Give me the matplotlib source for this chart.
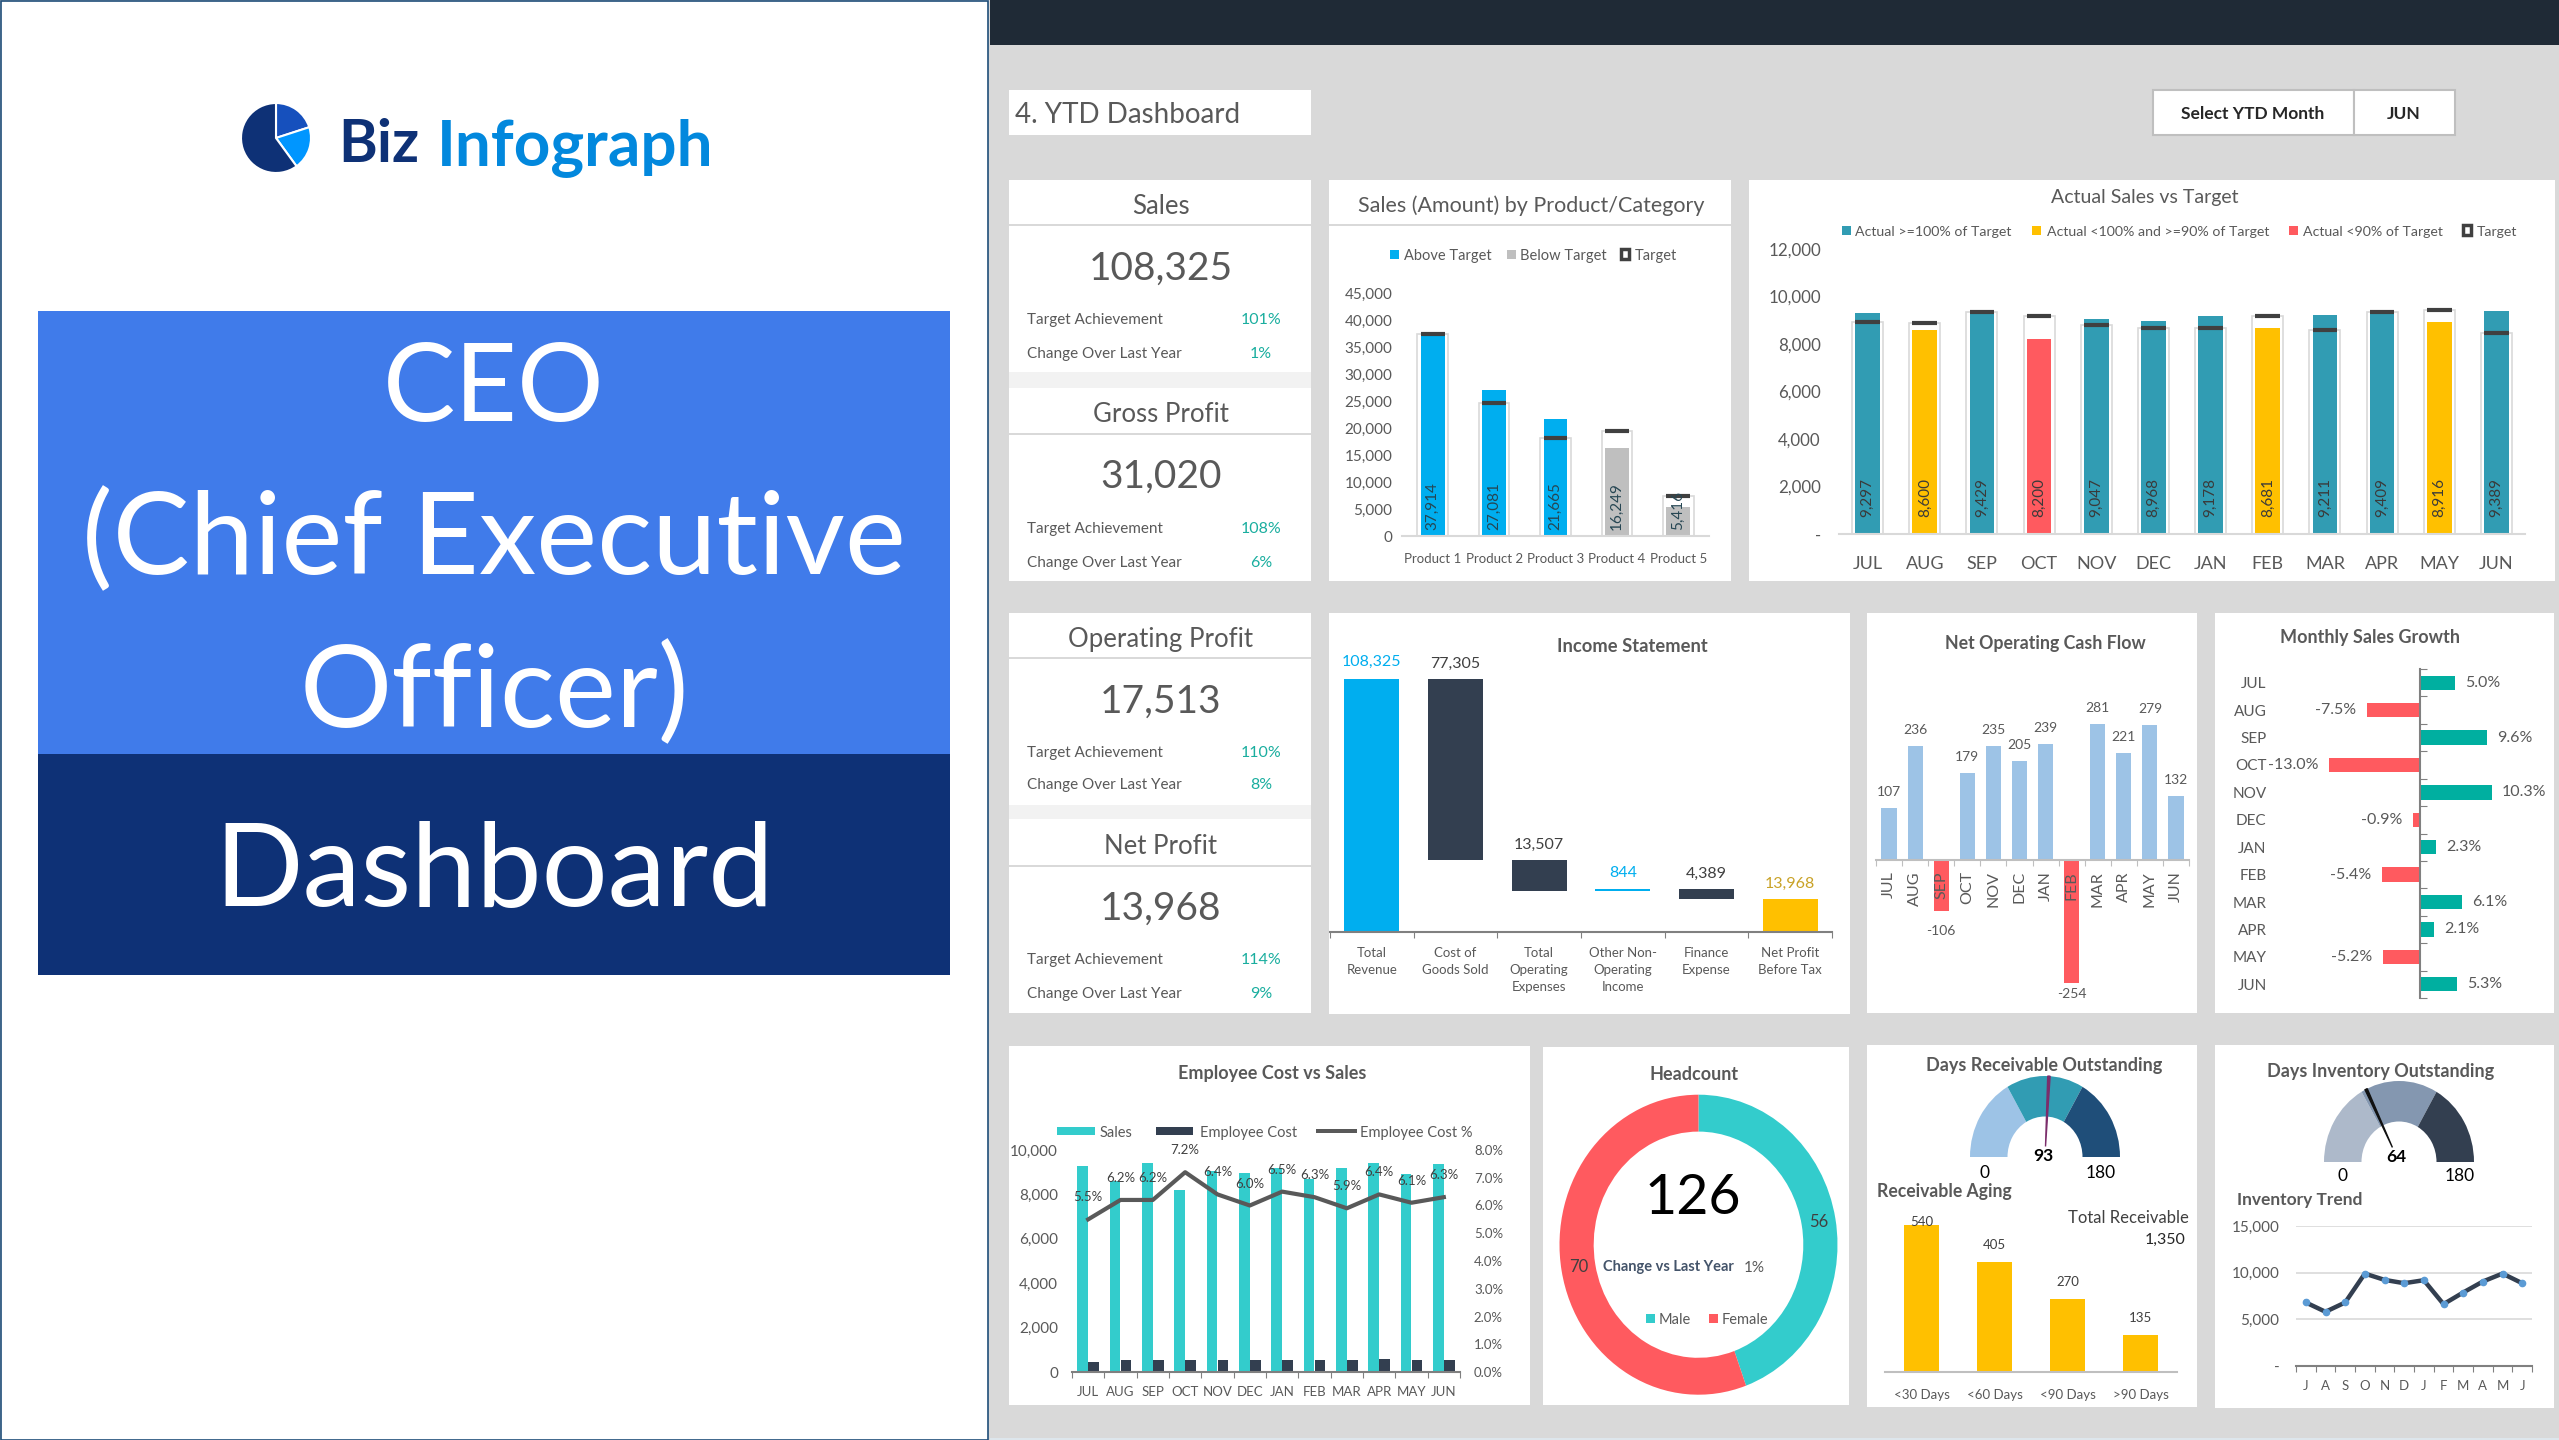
import numpy as np
import matplotlib
matplotlib.use('Agg')
import matplotlib.pyplot as plt
from matplotlib.patches import Rectangle

plt.rcParams['font.family'] = ['Lato', 'DejaVu Sans']

W, H = 2559, 1440
GREY = '#595959'
AXIS = '#BFBFBF'
TEAL = '#319CB3'
CYAN = '#00AEEF'
GOLD = '#FFC000'
RED = '#FF5A5F'
SLATE = '#333F50'
TURQ = '#33CCCC'

months = ['JUL', 'AUG', 'SEP', 'OCT', 'NOV', 'DEC', 'JAN', 'FEB', 'MAR', 'APR', 'MAY', 'JUN']
month_initials = ['J', 'A', 'S', 'O', 'N', 'D', 'J', 'F', 'M', 'A', 'M', 'J']

products = ['Product 1', 'Product 2', 'Product 3', 'Product 4', 'Product 5']
product_sales = [37914, 27081, 21665, 16249, 5416]
product_target = [37500, 24750, 18200, 19480, 7500]

monthly_sales = [9297, 8600, 9429, 8200, 9047, 8968, 9178, 8681, 9211, 9409, 8916, 9389]
monthly_target = [8940, 8884, 9347, 9158, 8808, 8690, 8690, 9158, 8607, 9347, 9419, 8463]

income_labels = ['Total\nRevenue', 'Cost of\nGoods Sold', 'Total\nOperating\nExpenses',
                 'Other Non-\nOperating\nIncome', 'Finance\nExpense', 'Net Profit\nBefore Tax']
income_values = [108325, -77305, -13507, 844, -4389, 13968]

cash_flow = [107, 236, -106, 179, 235, 205, 239, -254, 281, 221, 279, 132]
sales_growth = [5.0, -7.5, 9.6, -13.0, 10.3, -0.9, 2.3, -5.4, 6.1, 2.1, -5.2, 5.3]

employee_cost = [450, 530, 530, 530, 530, 530, 530, 530, 530, 600, 530, 530]
employee_pct = [5.5, 6.2, 6.2, 7.2, 6.4, 6.0, 6.5, 6.3, 5.9, 6.4, 6.1, 6.3]

headcount = [56, 70]
headcount_colors = [TURQ, RED]

aging_labels = ['<30 Days', '<60 Days', '<90 Days', '>90 Days']
aging_values = [540, 405, 270, 135]

inventory = [6805, 5808, 6805, 9900, 9228, 8870, 9192, 6627, 7874, 9050, 9905, 8870]

kpi_blocks = [
    ('Sales', '108,325', '101%', '1%', 205, 267, 318, 352),
    ('Gross Profit', '31,020', '108%', '6%', 413, 475, 527, 561),
    ('Operating Profit', '17,513', '110%', '8%', 638, 700, 751, 783),
    ('Net Profit', '13,968', '114%', '9%', 845, 907, 958, 992),
]

fig = plt.figure(figsize=(W / 100, H / 100), dpi=100, facecolor='#D9D9D9')

bg = fig.add_axes([0, 0, 1, 1])
bg.set_xlim(0, W)
bg.set_ylim(H, 0)
bg.axis('off')


def box(x0, y0, x1, y1, color='white', edge='none', lw=0, z=1):
    bg.add_patch(Rectangle((x0, y0), x1 - x0, y1 - y0, facecolor=color, edgecolor=edge, linewidth=lw, zorder=z))


def txt(x, y, s, size, color=GREY, ha='center', weight='normal'):
    # +2: Lato sits a bit high with va=center
    return bg.text(x, y + 2, s, fontsize=size, color=color, ha=ha, va='center', weight=weight, zorder=5)


def chart_axes(x0, y0, x1, y1):
    # pixel box, y counted from the top
    ax = fig.add_axes([x0 / W, 1 - y1 / H, (x1 - x0) / W, (y1 - y0) / H])
    ax.patch.set_visible(False)
    for s in ax.spines.values():
        s.set_visible(False)
    return ax


def category_axis(ax, labels, size, color=GREY, pad=6, ticks=True, rotation=0):
    n = len(labels)
    ax.set_xlim(-0.5, n - 0.5)
    ax.spines['bottom'].set_visible(True)
    ax.spines['bottom'].set_color(AXIS if not ticks else '#808080')
    ax.spines['bottom'].set_linewidth(1.5)
    if ticks:
        ax.set_xticks(np.arange(n + 1) - 0.5, labels=[])
        ax.tick_params(axis='x', which='major', length=4, color='#808080')
    else:
        ax.set_xticks([])
    ax.set_xticks(np.arange(n), labels=labels, minor=True)
    ax.tick_params(axis='x', which='minor', length=0, labelsize=size, labelcolor=color, pad=pad,
                   labelrotation=rotation)


def value_label(ax, x, y, s, dy, size, color=GREY):
    ax.annotate(s, (x, y), xytext=(0, dy * 0.72), textcoords='offset points', ha='center', va='center',
                fontsize=size, color=color, annotation_clip=False, zorder=6)


def legend_square(x, y, color, size=9):
    box(x, y - size / 2, x + size, y + size / 2, color=color, z=4)


def legend_target(x, y):
    box(x + 2, y - 5, x + 10, y + 5, color='white', edge='#404040', lw=2.5, z=4)


def gauge(cx, cy, rx, ry, colors, value, top, needle_color, needle_base):
    ax = chart_axes(cx - rx, cy - ry, cx + rx, cy)
    ax.pie([top / 3, top / 3, top / 3, top], colors=colors + ['none'], startangle=180, counterclock=False,
           radius=1, wedgeprops={'width': 0.5, 'linewidth': 0})
    ax.set_aspect('auto')
    ax.set_xlim(-1, 1)
    ax.set_ylim(0, 1)
    ang = np.pi * (1 - value / top)
    ax.fill([needle_base * np.cos(ang), np.cos(ang - 0.016), np.cos(ang + 0.016)],
            [needle_base * np.sin(ang), np.sin(ang - 0.016), np.sin(ang + 0.016)],
            color=needle_color, zorder=5, clip_on=False)


# left title panel
box(0.5, 0.5, 988, 1439.5, edge='#1F4E79', lw=1.2)
box(38, 311, 950, 754, color='#407BEA', z=2)
box(38, 754, 950, 975, color='#0E3176', z=2)
txt(494, 389, 'CEO', 78, color='white')
txt(494, 539, '(Chief Executive', 83, color='white')
txt(494, 692, 'Officer)', 83, color='white')
txt(494, 872, 'Dashboard', 84, color='white')

logo = chart_axes(241, 103, 311, 173)
logo.pie([20, 20, 60], colors=['#1650BD', '#0096FF', '#0E3176'], startangle=90, counterclock=False, radius=1,
         wedgeprops={'edgecolor': 'white', 'linewidth': 1.5})
logo.set_xlim(-1, 1)
logo.set_ylim(-1, 1)
txt(338, 143, 'Biz', 42.5, color='#0E3176', ha='left', weight='bold')
txt(437, 146, 'Infograph', 46, color='#0288DD', ha='left', weight='bold')

# right dashboard background
box(990, 0, W, 45, color='#1F2A36')
box(990, 1438, W, 1440, color='#DDE6EC')

box(1009, 90, 1311, 135)
txt(1015, 113, '4. YTD Dashboard', 20, ha='left')

box(2153, 90, 2354, 135, edge=AXIS, lw=1.5)
box(2354, 90, 2455, 135, edge=AXIS, lw=1.5)
txt(2253, 112, 'Select YTD Month', 12.5, color='#262626', weight='bold')
txt(2404, 112, 'JUN', 12.5, color='#262626', weight='bold')

# KPI cards
box(1009, 180, 1311, 372)
box(1009, 372, 1311, 388, color='#F2F2F2')
box(1009, 388, 1311, 581)
box(1009, 613, 1311, 805)
box(1009, 805, 1311, 819, color='#F2F2F2')
box(1009, 819, 1311, 1013)
for line_y in (225, 434, 658, 866):
    box(1009, line_y - 1, 1311, line_y + 1, color='#D9D9D9', z=2)
for title, value, target, change, ty, vy, ay, cy in kpi_blocks:
    txt(1161, ty, title, 18.5)
    txt(1161, vy, value, 28)
    txt(1027, ay, 'Target Achievement', 11, ha='left')
    txt(1261, ay, target, 11.5, color='#1AAE9F')
    txt(1027, cy, 'Change Over Last Year', 11, ha='left')
    txt(1261, cy, change, 11.5, color='#1AAE9F')

# sales by product
box(1329, 180, 1731, 581)
box(1329, 224, 1731, 226, color='#D9D9D9', z=2)
txt(1531, 204, 'Sales (Amount) by Product/Category', 15.5)
legend_square(1390, 254, '#00AEEF')
txt(1404, 254, 'Above Target', 10.5, ha='left')
legend_square(1507, 254, '#BFBFBF')
txt(1520, 254, 'Below Target', 10.5, ha='left')
legend_target(1619, 254)
txt(1635, 254, 'Target', 10.5, ha='left')

ax = chart_axes(1402, 293.5, 1709, 536)
category_axis(ax, products, 9.5, ticks=False, pad=12)
ax.spines['bottom'].set_color('#D9D9D9')
ax.set_ylim(0, 45000)
ax.set_yticks(np.arange(0, 45001, 5000), labels=[f'{v:,}' for v in range(0, 45001, 5000)])
ax.tick_params(axis='y', length=0, labelsize=11, labelcolor=GREY, pad=7)
xs = np.arange(len(products))
ax.bar(xs, product_target, width=0.5, color='white', edgecolor='#D9D9D9', linewidth=1.2)
ax.bar(xs, product_sales, width=0.39, color=[CYAN if a >= t else '#BFBFBF' for a, t in zip(product_sales, product_target)])
ax.hlines(product_target, xs - 0.195, xs + 0.195, color='#404040', linewidth=3)
for x, v in zip(xs, product_sales):
    ax.text(x, 1100, f'{v:,}', rotation=90, ha='center', va='bottom', fontsize=11, color='#264653')

# actual sales vs target
box(1749, 180, 2555, 581)
txt(2145, 196, 'Actual Sales vs Target', 14)
legend_square(1842, 230, TEAL)
txt(1855, 230, 'Actual >=100% of Target', 10.2, ha='left')
legend_square(2032, 230, GOLD)
txt(2047, 230, 'Actual <100% and >=90% of Target', 10.2, ha='left')
legend_square(2289, 230, RED)
txt(2303, 230, 'Actual <90% of Target', 10.2, ha='left')
legend_target(2461, 230)
txt(2477, 230, 'Target', 10.2, ha='left')

ax = chart_axes(1839, 249, 2525, 534)
category_axis(ax, months, 13, ticks=False, pad=16)
ax.spines['bottom'].set_color('#D9D9D9')
ax.set_ylim(0, 12000)
ticks = np.arange(0, 12001, 2000)
ax.set_yticks(ticks, labels=['-' if v == 0 else f'{v:,}' for v in ticks])
ax.tick_params(axis='y', length=0, labelsize=12.2, labelcolor=GREY, pad=13)
xs = np.arange(12)
colors = []
for a, t in zip(monthly_sales, monthly_target):
    colors.append(TEAL if a >= t else (GOLD if a >= 0.9 * t else RED))
ax.bar(xs, monthly_target, width=0.54, color='white', edgecolor='#D9D9D9', linewidth=1.2)
ax.bar(xs, monthly_sales, width=0.43, color=colors)
ax.hlines(monthly_target, xs - 0.215, xs + 0.215, color='#404040', linewidth=3)
for x, v in zip(xs, monthly_sales):
    ax.text(x, 700, f'{v:,}', rotation=90, ha='center', va='bottom', fontsize=11, color='#3A3A3A')

# income statement
box(1329, 613, 1850, 1014)
txt(1632, 644, 'Income Statement', 13.2, weight='bold')
ax = chart_axes(1330, 679, 1832, 932)
category_axis(ax, income_labels, 9.5, pad=11)
for t in ax.get_xticklabels(minor=True):
    t.set_linespacing(1.5)
ax.set_ylim(0, income_values[0])
ax.set_yticks([])
running = 0
label_colors = ['#00AEEF', '#404040', '#404040', '#00AEEF', '#404040', '#C9A227']
bar_colors = [CYAN, SLATE, SLATE, CYAN, SLATE, GOLD]
gaps = [17, 15, 15, 16, 15, 15]
for i, v in enumerate(income_values):
    if i == len(income_values) - 1:
        bottom, top = 0, v
    else:
        bottom, top = min(running, running + v), max(running, running + v)
        running += v
    ax.bar(i, top - bottom, bottom=bottom, width=0.66, color=bar_colors[i])
    value_label(ax, i, top, f'{abs(v):,}', gaps[i], 11.5, label_colors[i])

# net operating cash flow
box(1867, 613, 2197, 1013)
txt(2045, 642, 'Net Operating Cash Flow', 12.8, weight='bold')
ax = chart_axes(1876, 724, 2189, 983)
ax.set_ylim(-254, 281)
category_axis(ax, months, 11.5, pad=8, rotation=90)
ax.spines['bottom'].set_position(('data', 0))
ax.spines['bottom'].set_color(AXIS)
ax.tick_params(axis='x', which='major', color=AXIS)
ax.set_yticks([])
ax.bar(range(12), cash_flow, width=0.58, color=['#9DC3E6' if v > 0 else RED for v in cash_flow])
for i, v in enumerate(cash_flow):
    value_label(ax, i, v, str(v), 16 if v > 0 else (-20 if v > -200 else -11), 10)

# monthly sales growth
box(2215, 613, 2554, 1013)
txt(2370, 635, 'Monthly Sales Growth', 13, weight='bold')
ax = chart_axes(2280, 669, 2530, 998)
ax.set_xlim(-139.5 / 7, 110.5 / 7)
ax.set_ylim(11.5, -0.5)
ax.spines['left'].set_visible(True)
ax.spines['left'].set_position(('data', 0))
ax.spines['left'].set_color('#808080')
ax.spines['left'].set_linewidth(1.5)
ax.set_xticks([])
ax.set_yticks(np.arange(13) - 0.5, labels=[])
ax.tick_params(axis='y', which='major', direction='in', length=5, color='#808080')
ax.set_yticks(np.arange(12), labels=months, minor=True)
ax.tick_params(axis='y', which='minor', length=0, labelsize=11, labelcolor=GREY, pad=110)
ax.barh(range(12), sales_growth, height=0.52, color=['#00AFA0' if v > 0 else RED for v in sales_growth])
for i, v in enumerate(sales_growth):
    ax.annotate(f'{v:.1f}%', (v, i), xytext=(7.5 if v > 0 else -7.5, 0), textcoords='offset points', va='center',
                ha='left' if v > 0 else 'right', fontsize=11.5, color=GREY, annotation_clip=False)

# employee cost vs sales
box(1009, 1046, 1530, 1405)
txt(1272, 1072, 'Employee Cost vs Sales', 13, weight='bold')
box(1057, 1127, 1095, 1135, color=TURQ, z=4)
txt(1100, 1131, 'Sales', 10.5, ha='left')
box(1156, 1127, 1193, 1135, color=SLATE, z=4)
txt(1200, 1131, 'Employee Cost', 10.5, ha='left')
box(1316, 1129, 1357, 1133, color='#595959', z=4)
txt(1360, 1131, 'Employee Cost %', 10.5, ha='left')
ax = chart_axes(1072, 1150, 1460, 1372)
category_axis(ax, months, 9.5, pad=10)
ax.set_ylim(0, 10000)
ticks = np.arange(0, 10001, 2000)
ax.set_yticks(ticks, labels=[f'{v:,}' for v in ticks])
ax.tick_params(axis='y', length=0, labelsize=11, labelcolor=GREY, pad=10)
xs = np.arange(12)
ax.bar(xs - 0.17, monthly_sales, width=0.32, color=TURQ)
ax.bar(xs + 0.17, employee_cost, width=0.32, color=SLATE)
ax2 = ax.twinx()
ax2.patch.set_visible(False)
for s in ax2.spines.values():
    s.set_visible(False)
ax2.set_ylim(0, 8)
ax2.set_yticks(np.arange(0, 9), labels=[f'{v:.1f}%' for v in np.arange(0, 9.0)])
ax2.tick_params(axis='y', length=0, labelsize=9.5, labelcolor=GREY, pad=10)
ax2.plot(xs, employee_pct, color='#595959', linewidth=3)
for x, v in zip(xs, employee_pct):
    value_label(ax2, x, v, f'{v:.1f}%', 22, 9.5, '#404040')

# headcount
box(1543, 1047, 1849, 1405)
txt(1694, 1072, 'Headcount', 13, weight='bold')
ax = chart_axes(1559.5, 1094.7, 1837.5, 1394.7)
_, _, autotexts = ax.pie(headcount, colors=headcount_colors, startangle=90, counterclock=False, radius=1,
                         autopct=lambda p: f'{p * sum(headcount) / 100:.0f}', pctdistance=0.875,
                         wedgeprops={'width': 0.246, 'linewidth': 0}, textprops={'fontsize': 12, 'color': '#404040'})
ax.set_aspect('auto')
ax.set_xlim(-1, 1)
ax.set_ylim(-1, 1)
txt(1693, 1196, str(sum(headcount)), 40, color='black')
txt(1668, 1265, 'Change vs Last Year', 10.5, color='#44546A', weight='bold')
txt(1754, 1266, '1%', 11, color=GREY)
legend_square(1646, 1318, TURQ)
txt(1659, 1318, 'Male', 10.5, ha='left')
legend_square(1709, 1318, RED)
txt(1722, 1318, 'Female', 10.5, ha='left')

# days receivable
box(1867, 1045, 2197, 1407)
txt(2044, 1064, 'Days Receivable Outstanding', 13, weight='bold')
gauge(2045, 1157, 75, 81, ['#9DC3E6', TEAL, '#1F4E79'], 93, 180, '#7B2D6B', 0.13)
txt(2043, 1154, '93', 12.5, color='black', weight='bold')
txt(1984, 1171, '0', 12.5, color='black')
txt(2101, 1171, '180', 12.5, color='black')
txt(1877, 1190, 'Receivable Aging', 12.7, ha='left', weight='bold')
txt(2189, 1216, 'Total Receivable', 12, ha='right', color='#404040')
txt(2186, 1238, '1,350', 11.5, ha='right', color='#262626')
ax = chart_axes(1885, 1225, 2177, 1372)
category_axis(ax, aging_labels, 9.5, ticks=False, pad=12)
ax.spines['bottom'].set_color(AXIS)
ax.set_ylim(0, max(aging_values))
ax.set_yticks([])
ax.bar(range(4), aging_values, width=0.49, color=GOLD)
for i, v in enumerate(aging_values):
    value_label(ax, i, v, str(v), 3 if v == max(aging_values) else 17, 9.5, '#404040')

# days inventory
box(2215, 1045, 2554, 1408)
txt(2381, 1069, 'Days Inventory Outstanding', 13, weight='bold')
gauge(2399, 1162, 75, 81, ['#ADB9CA', '#8497B0', SLATE], 64, 180, '#111111', 0.2)
txt(2396, 1155, '64', 12.5, color='black', weight='bold')
txt(2342, 1174, '0', 12.5, color='black')
txt(2460, 1174, '180', 12.5, color='black')
txt(2237, 1198, 'Inventory Trend', 12.5, ha='left', weight='bold')
ax = chart_axes(2296, 1226, 2532, 1366)
category_axis(ax, month_initials, 9.5, pad=10)
ax.set_ylim(0, 15000)
ticks = np.arange(0, 15001, 5000)
ax.set_yticks(ticks, labels=['-' if v == 0 else f'{v:,}' for v in ticks])
ax.tick_params(axis='y', length=0, labelsize=11, labelcolor=GREY, pad=12)
ax.grid(axis='y', color='#D9D9D9', linewidth=1.2)
ax.set_axisbelow(True)
ax.plot(range(12), inventory, color=SLATE, linewidth=3.2, marker='o', markersize=4.5,
        markerfacecolor='#5B9BD5', markeredgecolor='#5B9BD5')

fig.savefig('out.png', dpi=100, facecolor=fig.get_facecolor())
